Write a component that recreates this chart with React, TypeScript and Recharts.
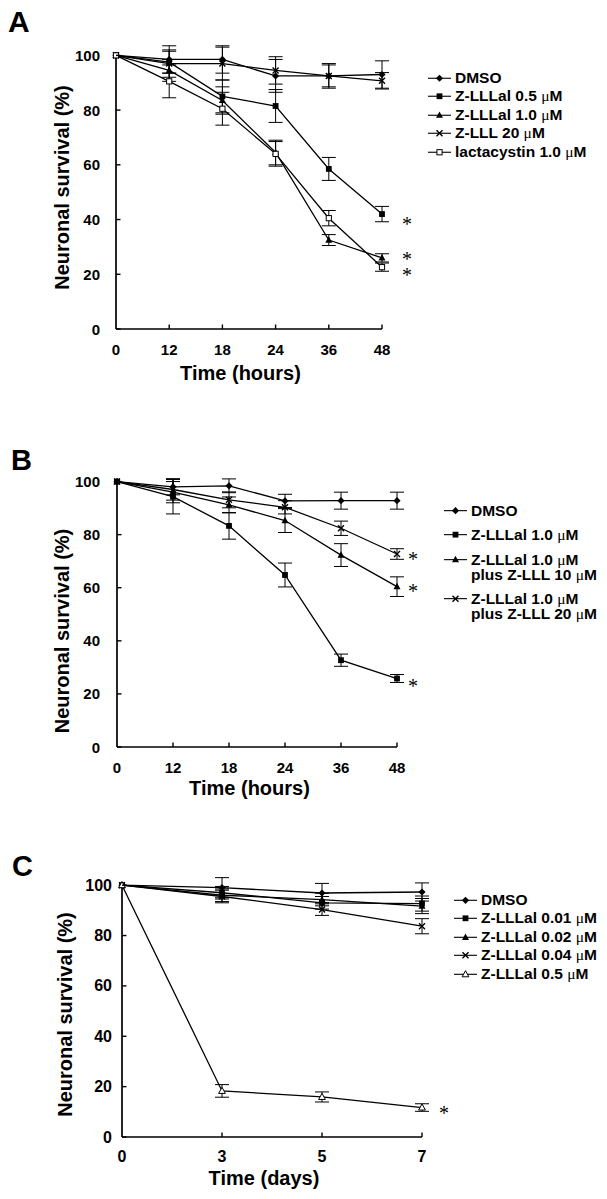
import React from 'react';
import { LineChart, Line, XAxis, YAxis, ErrorBar, ReferenceLine, LabelList, Label } from 'recharts';

const SANS = '"Liberation Sans", Arial, Helvetica, sans-serif';
const SERIF = '"Liberation Serif", "Times New Roman", serif';

type Shape = 'diamond' | 'square' | 'triangle' | 'cross' | 'openSquare' | 'openTriangle';

// ---- Panel A: time course, hours ----
const hoursA = ['0', '12', '18', '24', '36', '48'];
const dmsoA = [100, 98.5, 98.5, 92.5, 92.5, 93];
const dmsoAErr = [0, 5, 5, 6, 4.5, 5];
const lllal05A = [100, 97.5, 85, 81.5, 58.5, 42];
const lllal05AErr = [0, 4, 6, 6, 4.2, 2.8];
const lllal10A = [100, 94.5, 83.5, 64.5, 32.5, 26];
const lllal10AErr = [0, 4, 5, 4.5, 2, 1.5];
const lll20A = [100, 97, 97, 94.5, 92.5, 90.7];
const lll20AErr = [0, 5, 6, 5, 4, 3];
const lactaA = [100, 90.5, 80.5, 64, 40.5, 22.6];
const lactaAErr = [0, 6, 6, 4.5, 2.8, 1.5];

// ---- Panel B: Z-LLL rescue, hours ----
const hoursB = ['0', '12', '18', '24', '36', '48'];
const dmsoB = [100, 98, 98.4, 92.7, 92.8, 92.8];
const dmsoBErr = [0, 3, 2.6, 2.5, 3.2, 3.2];
const lllal10B = [100, 94.3, 83.3, 64.8, 32.7, 25.8];
const lllal10BErr = [0, 6.5, 5, 4.5, 2.3, 1.5];
const plus10B = [100, 96, 91.2, 85.3, 72.3, 60.4];
const plus10BErr = [0, 4, 3, 4.5, 4.3, 3.7];
const plus20B = [100, 97, 93.1, 90.3, 82.4, 72.7];
const plus20BErr = [0, 4, 3, 2.5, 2.7, 2];

// ---- Panel C: low doses, days ----
const daysC = ['0', '3', '5', '7'];
const dmsoC = [100, 99, 96.9, 97.3];
const dmsoCErr = [0, 4, 3.8, 3.6];
const lllal001C = [100, 97, 93, 92.7];
const lllal001CErr = [0, 2.5, 2.5, 3];
const lllal002C = [100, 96, 94.3, 91.7];
const lllal002CErr = [0, 2.5, 2.5, 3];
const lllal004C = [100, 95.5, 90.3, 83.7];
const lllal004CErr = [0, 2.5, 2.3, 3];
const lllal05C = [100, 18.3, 15.9, 11.7];
const lllal05CErr = [0, 2.5, 2, 1.5];

const yTicks = [0, 20, 40, 60, 80, 100];

interface Series {
  key: string;
  name: string[];
  shape: Shape;
  values: number[];
  errors: number[];
}

const seriesA: Series[] = [
  { key: 'dmso', name: ['DMSO'], shape: 'diamond', values: dmsoA, errors: dmsoAErr },
  { key: 'lllal05', name: ['Z-LLLal 0.5 μM'], shape: 'square', values: lllal05A, errors: lllal05AErr },
  { key: 'lllal10', name: ['Z-LLLal 1.0 μM'], shape: 'triangle', values: lllal10A, errors: lllal10AErr },
  { key: 'lll20', name: ['Z-LLL 20 μM'], shape: 'cross', values: lll20A, errors: lll20AErr },
  { key: 'lacta', name: ['lactacystin 1.0 μM'], shape: 'openSquare', values: lactaA, errors: lactaAErr },
];

const seriesB: Series[] = [
  { key: 'dmso', name: ['DMSO'], shape: 'diamond', values: dmsoB, errors: dmsoBErr },
  { key: 'lllal10', name: ['Z-LLLal 1.0 μM'], shape: 'square', values: lllal10B, errors: lllal10BErr },
  { key: 'plus10', name: ['Z-LLLal 1.0 μM', 'plus Z-LLL 10 μM'], shape: 'triangle', values: plus10B, errors: plus10BErr },
  { key: 'plus20', name: ['Z-LLLal 1.0 μM', 'plus Z-LLL 20 μM'], shape: 'cross', values: plus20B, errors: plus20BErr },
];

const seriesC: Series[] = [
  { key: 'dmso', name: ['DMSO'], shape: 'diamond', values: dmsoC, errors: dmsoCErr },
  { key: 'lllal001', name: ['Z-LLLal 0.01 μM'], shape: 'square', values: lllal001C, errors: lllal001CErr },
  { key: 'lllal002', name: ['Z-LLLal 0.02 μM'], shape: 'triangle', values: lllal002C, errors: lllal002CErr },
  { key: 'lllal004', name: ['Z-LLLal 0.04 μM'], shape: 'cross', values: lllal004C, errors: lllal004CErr },
  { key: 'lllal05', name: ['Z-LLLal 0.5 μM'], shape: 'openTriangle', values: lllal05C, errors: lllal05CErr },
];

const Marker = ({ shape, cx, cy }: { shape: Shape; cx: number; cy: number }) => {
  switch (shape) {
    case 'diamond':
      return <polygon points={`${cx},${cy - 3.6} ${cx + 3.6},${cy} ${cx},${cy + 3.6} ${cx - 3.6},${cy}`} fill="#000" />;
    case 'square':
      return <rect x={cx - 2.9} y={cy - 2.9} width={5.8} height={5.8} fill="#000" />;
    case 'triangle':
      return <polygon points={`${cx},${cy - 3.8} ${cx + 3.5},${cy + 2.6} ${cx - 3.5},${cy + 2.6}`} fill="#000" />;
    case 'cross':
      return (
        <path
          d={`M${cx - 3},${cy - 3}L${cx + 3},${cy + 3}M${cx - 3},${cy + 3}L${cx + 3},${cy - 3}`}
          stroke="#000"
          strokeWidth={1.4}
        />
      );
    case 'openSquare':
      return <rect x={cx - 2.6} y={cy - 2.6} width={5.2} height={5.2} fill="#fff" stroke="#000" strokeWidth={1} />;
    case 'openTriangle':
      return (
        <polygon
          points={`${cx},${cy - 3.6} ${cx + 3.4},${cy + 2.5} ${cx - 3.4},${cy + 2.5}`}
          fill="#fff"
          stroke="#000"
          strokeWidth={1}
        />
      );
  }
  return null;
};

const withMu = (s: string) =>
  s.split('μ').map((part, i) =>
    i === 0 ? (
      <React.Fragment key={i}>{part}</React.Fragment>
    ) : (
      <React.Fragment key={i}>
        <span style={{ fontFamily: SERIF, fontWeight: 'normal' }}>μ</span>
        {part}
      </React.Fragment>
    )
  );

interface PanelProps {
  top: number;
  height: number;
  categories: string[];
  series: Series[];
  xTitle: string;
  marginTop: number;
  marginRight: number;
  yAxisWidth: number;
  xAxisHeight: number;
  yTickGap: number;
  tickFont: number;
  xTickDy: number;
  yTitlePos: [number, number];
  xTitlePos: [number, number];
  legend: { left: number; top: number; lineHeight: number; gap: number };
  stars: Record<string, { dx: number; dy: number }>;
}

const Panel = (p: PanelProps) => {
  const data = p.categories.map((c, i) => {
    const row: Record<string, string | number> = { t: c };
    p.series.forEach((s) => {
      row[s.key] = s.values[i];
      row[`${s.key}Err`] = s.errors[i];
    });
    return row;
  });
  const last = p.categories.length - 1;

  return (
    <div style={{ position: 'absolute', left: 0, top: p.top, width: 607, height: p.height }}>
      <LineChart
        width={607}
        height={p.height}
        data={data}
        margin={{ top: p.marginTop, right: p.marginRight, left: 0, bottom: 0 }}
      >
        <XAxis
          dataKey="t"
          height={p.xAxisHeight}
          interval={0}
          tickSize={0}
          tickMargin={0}
          tickLine={false}
          axisLine={{ stroke: '#000', strokeWidth: 1.7 }}
          tick={(t: any) => (
            <g>
              {t.index !== 0 && <line x1={t.x} y1={t.y} x2={t.x} y2={t.y - 4.5} stroke="#000" strokeWidth={1.4} />}
              <text
                x={t.x}
                y={t.y + p.xTickDy}
                textAnchor="middle"
                dominantBaseline="central"
                fontFamily={SANS}
                fontWeight="bold"
                fontSize={p.tickFont}
                fill="#000"
              >
                {t.payload.value}
              </text>
            </g>
          )}
        >
          <Label
            content={() => (
              <text
                x={p.xTitlePos[0]}
                y={p.xTitlePos[1]}
                textAnchor="middle"
                dominantBaseline="central"
                fontFamily={SANS}
                fontWeight="bold"
                fontSize={20}
                fill="#000"
              >
                {p.xTitle}
              </text>
            )}
          />
        </XAxis>
        <YAxis
          type="number"
          domain={[0, 110]}
          ticks={yTicks}
          interval={0}
          width={p.yAxisWidth}
          tickSize={0}
          tickMargin={0}
          tickLine={false}
          axisLine={false}
          tick={(t: any) => (
            <g>
              <line x1={t.x} y1={t.y} x2={t.x + 4.5} y2={t.y} stroke="#000" strokeWidth={1.4} />
              <text
                x={t.x - p.yTickGap}
                y={t.y}
                textAnchor="end"
                dominantBaseline="central"
                fontFamily={SANS}
                fontWeight="bold"
                fontSize={p.tickFont}
                fill="#000"
              >
                {t.payload.value}
              </text>
            </g>
          )}
        >
          <Label
            content={() => (
              <text
                x={p.yTitlePos[0]}
                y={p.yTitlePos[1]}
                transform={`rotate(-90 ${p.yTitlePos[0]} ${p.yTitlePos[1]})`}
                textAnchor="middle"
                dominantBaseline="central"
                fontFamily={SANS}
                fontWeight="bold"
                fontSize={20}
                fill="#000"
              >
                Neuronal survival (%)
              </text>
            )}
          />
        </YAxis>
        <ReferenceLine
          segment={[
            { x: p.categories[0], y: 0 },
            { x: p.categories[0], y: 100 },
          ]}
          stroke="#000"
          strokeWidth={1.7}
        />
        {p.series.map((s) => {
          const star = p.stars[s.key];
          return (
            <Line
              key={s.key}
              type="linear"
              dataKey={s.key}
              stroke="#000"
              strokeWidth={1.3}
              isAnimationActive={false}
              activeDot={false}
              dot={(d: any) => (
                <g key={`${s.key}-${d.index}`}>
                  <Marker shape={s.shape} cx={d.cx} cy={d.cy} />
                </g>
              )}
            >
              <ErrorBar dataKey={`${s.key}Err`} width={7} stroke="#000" strokeWidth={1} direction="y" />
              {star && (
                <LabelList
                  dataKey={s.key}
                  content={(l: any) =>
                    l.index === last ? (
                      <text
                        x={l.x + star.dx}
                        y={l.y + star.dy + 9}
                        textAnchor="middle"
                        fontFamily={SERIF}
                        fontSize={20}
                        fill="#000"
                      >
                        *
                      </text>
                    ) : null
                  }
                />
              )}
            </Line>
          );
        })}
      </LineChart>

      <div
        style={{
          position: 'absolute',
          left: p.legend.left,
          top: p.legend.top - p.top,
          fontFamily: SANS,
          fontWeight: 'bold',
          fontSize: 15.5,
          color: '#000',
          whiteSpace: 'nowrap',
        }}
      >
        {p.series.map((s) => (
          <div key={s.key} style={{ display: 'flex', alignItems: 'flex-start', marginBottom: p.legend.gap }}>
            <svg width={27} height={p.legend.lineHeight} style={{ flex: 'none', display: 'block' }}>
              <line
                x1={0}
                y1={p.legend.lineHeight / 2}
                x2={23}
                y2={p.legend.lineHeight / 2}
                stroke="#000"
                strokeWidth={1.1}
              />
              <Marker shape={s.shape} cx={11.5} cy={p.legend.lineHeight / 2} />
            </svg>
            <div style={{ lineHeight: `${p.legend.lineHeight}px` }}>
              {s.name.map((n, i) => (
                <div key={i}>{withMu(n)}</div>
              ))}
            </div>
          </div>
        ))}
      </div>
    </div>
  );
};

export default function App() {
  return (
    <div style={{ position: 'absolute', left: 0, top: 0, width: 607, height: 1199, background: '#fff' }}>
      <Panel
        top={0}
        height={390}
        categories={hoursA}
        series={seriesA}
        xTitle="Time (hours)"
        marginTop={28}
        marginRight={225}
        yAxisWidth={116}
        xAxisHeight={61}
        yTickGap={16}
        tickFont={15}
        xTickDy={20}
        yTitlePos={[62, 187.5]}
        xTitlePos={[240.5, 373]}
        legend={{ left: 428, top: 68.5, lineHeight: 18.5, gap: 0 }}
        stars={{ lllal05: { dx: 25, dy: 8 }, lllal10: { dx: 25, dy: -1 }, lacta: { dx: 25, dy: 6 } }}
      />
      <Panel
        top={400}
        height={400}
        categories={hoursB}
        series={seriesB}
        xTitle="Time (hours)"
        marginTop={55}
        marginRight={210}
        yAxisWidth={117}
        xAxisHeight={53}
        yTickGap={17}
        tickFont={15}
        xTickDy={20}
        yTitlePos={[62, 231]}
        xTitlePos={[249.5, 388]}
        legend={{ left: 444, top: 503, lineHeight: 15.3, gap: 9 }}
        stars={{ lllal10: { dx: 16, dy: 5 }, plus10: { dx: 16, dy: 2 }, plus20: { dx: 16, dy: 3 } }}
      />
      <Panel
        top={800}
        height={399}
        categories={daysC}
        series={seriesC}
        xTitle="Time (days)"
        marginTop={60}
        marginRight={185}
        yAxisWidth={122}
        xAxisHeight={62}
        yTickGap={10}
        tickFont={16}
        xTickDy={19}
        yTitlePos={[65, 214.5]}
        xTitlePos={[264, 378]}
        legend={{ left: 454, top: 890.7, lineHeight: 18.6, gap: 0 }}
        stars={{ lllal05: { dx: 22, dy: 3 } }}
      />
      <svg
        width={607}
        height={1199}
        style={{ position: 'absolute', left: 0, top: 0, pointerEvents: 'none' }}
      >
        <text x={8} y={32} fontFamily={SANS} fontWeight="bold" fontSize={30} fill="#000">A</text>
        <text x={11} y={470} fontFamily={SANS} fontWeight="bold" fontSize={29} fill="#000">B</text>
        <text x={12} y={876} fontFamily={SANS} fontWeight="bold" fontSize={29} fill="#000">C</text>
      </svg>
    </div>
  );
}
